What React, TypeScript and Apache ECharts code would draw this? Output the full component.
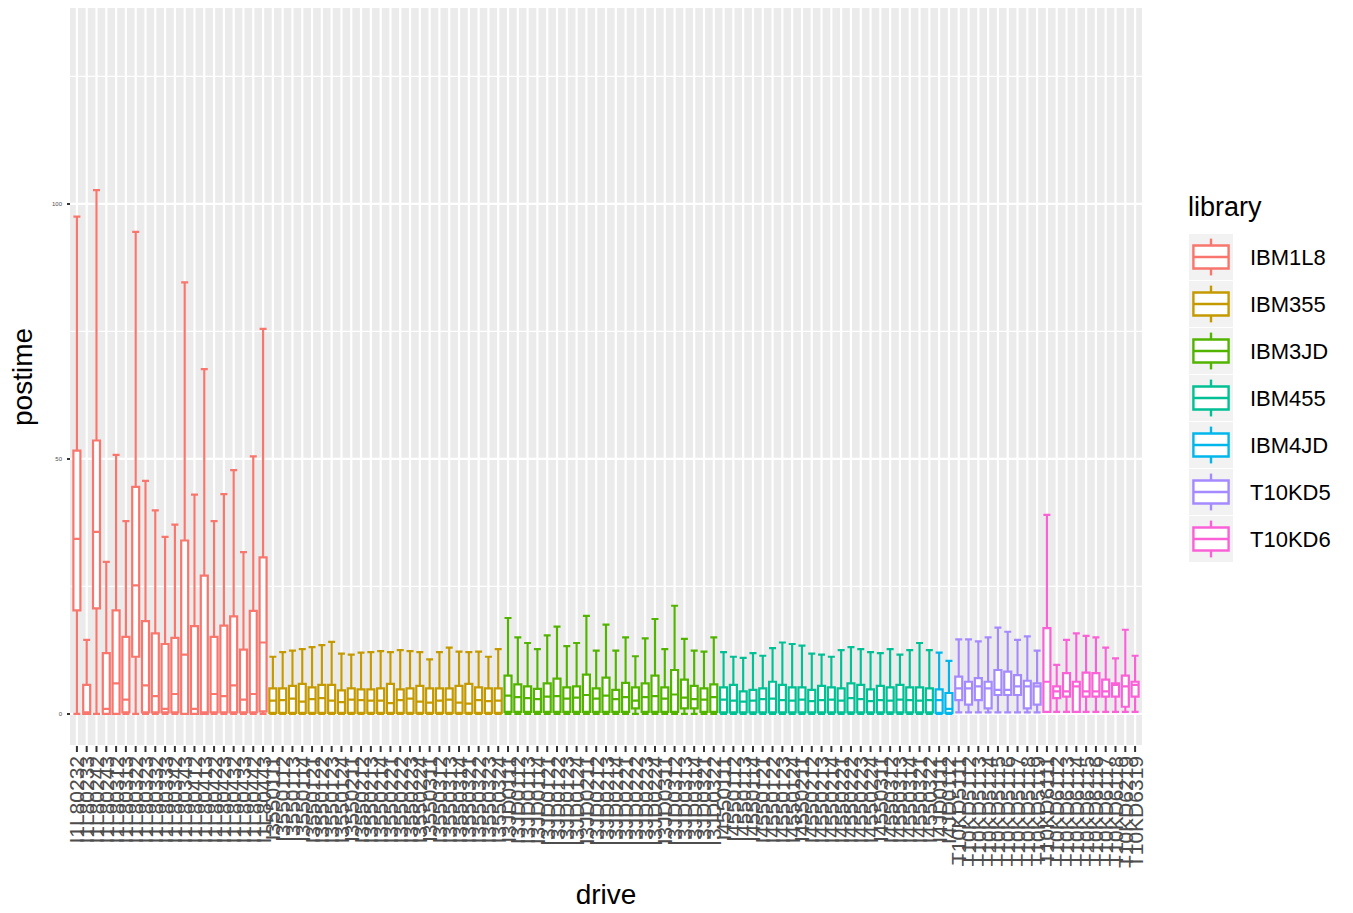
import React, { useEffect, useRef } from "react";
import * as echarts from "echarts";

const FONT = "'Liberation Sans', Arial, Helvetica, sans-serif";

const libraries = ["IBM1L8", "IBM355", "IBM3JD", "IBM455", "IBM4JD", "T10KD5", "T10KD6"];
const libraryColors = ["#F8766D", "#C49A00", "#53B400", "#00C094", "#00B6EB", "#A58AFF", "#FB61D7"];

// drive names per library
const drivesIBM1L8 = [
  "I1L80232", "I1L80233", "I1L80242", "I1L80243", "I1L80312", "I1L80313", "I1L80322", "I1L80323",
  "I1L80332", "I1L80333", "I1L80342", "I1L80343", "I1L80412", "I1L80413", "I1L80422", "I1L80423",
  "I1L80432", "I1L80433", "I1L80442", "I1L80443",
];
const drivesIBM355 = [
  "I3550111", "I3550112", "I3550113", "I3550114", "I3550121", "I3550122", "I3550123", "I3550124",
  "I3550211", "I3550212", "I3550213", "I3550214", "I3550221", "I3550222", "I3550223", "I3550224",
  "I3550311", "I3550312", "I3550313", "I3550314", "I3550321", "I3550322", "I3550323", "I3550324",
];
const drivesIBM3JD = [
  "I3JD0111", "I3JD0112", "I3JD0113", "I3JD0114", "I3JD0121", "I3JD0122", "I3JD0123", "I3JD0124",
  "I3JD0211", "I3JD0212", "I3JD0213", "I3JD0214", "I3JD0221", "I3JD0222", "I3JD0223", "I3JD0224",
  "I3JD0311", "I3JD0312", "I3JD0313", "I3JD0314", "I3JD0321", "I3JD0322",
];
const drivesIBM455 = [
  "I4550111", "I4550112", "I4550113", "I4550114", "I4550121", "I4550122", "I4550123", "I4550124",
  "I4550211", "I4550212", "I4550213", "I4550214", "I4550221", "I4550222", "I4550223", "I4550224",
  "I4550311", "I4550312", "I4550313", "I4550314", "I4550321", "I4550322",
];
const drivesIBM4JD = ["I4JD0111", "I4JD0112"];
const drivesT10KD5 = [
  "T10KD5111", "T10KD5112", "T10KD5113", "T10KD5114", "T10KD5115", "T10KD5116", "T10KD5117",
  "T10KD5118", "T10KD5119",
];
const drivesT10KD6 = [
  "T10KD6111", "T10KD6112", "T10KD6113", "T10KD6114", "T10KD6115", "T10KD6116", "T10KD6117",
  "T10KD6118", "T10KD6219", "T10KD6319",
];

// postime box statistics per drive: [lower whisker, Q1, median, Q3, upper whisker]
const statsIBM1L8 = [
  [0, 20.3, 34.3, 51.6, 97.5], [0, 0, 0.3, 5.7, 14.5], [0, 20.7, 35.7, 53.6, 102.7],
  [0, 0, 1.0, 11.9, 29.8], [0, 0, 6.0, 20.3, 50.8], [0, 0.3, 2.8, 15.1, 37.8],
  [0, 11.2, 25.2, 44.5, 94.5], [0, 0.3, 5.6, 18.2, 45.7], [0, 0.3, 3.5, 15.8, 39.9],
  [0, 0.3, 1.0, 13.7, 34.7], [0, 0.3, 3.9, 14.9, 37.1], [0, 0, 11.6, 34.0, 84.6],
  [0, 0, 1.0, 17.2, 43.0], [0, 0, 0.3, 27.1, 67.6], [0, 0.3, 3.9, 15.1, 37.8],
  [0, 0.3, 3.5, 17.3, 43.1], [0, 0.3, 5.6, 19.1, 47.8], [0, 0.3, 2.8, 12.6, 31.7],
  [0, 0.3, 3.9, 20.2, 50.5], [0, 0.5, 14.0, 30.7, 75.5],
];
const statsIBM355 = [
  [0, 0.2, 2.6, 5.0, 11.2], [0, 0.2, 2.7, 5.0, 12.1], [0, 0.2, 3.0, 5.5, 12.4], [0, 0.2, 2.4, 5.9, 12.7],
  [0, 0.2, 2.9, 5.2, 13.1], [0, 0.2, 3.1, 5.7, 13.5], [0, 0.2, 2.6, 5.7, 14.1], [0, 0.2, 2.3, 4.6, 11.8],
  [0, 0.2, 2.8, 5.0, 11.6], [0, 0.2, 2.7, 4.8, 12.0], [0, 0.2, 2.6, 4.8, 12.1], [0, 0.2, 2.6, 5.0, 12.3],
  [0, 0.2, 2.1, 5.9, 12.1], [0, 0.2, 2.7, 4.8, 12.5], [0, 0.2, 3.0, 5.0, 12.3], [0, 0.2, 2.4, 5.5, 12.1],
  [0, 0.2, 2.2, 5.0, 10.7], [0, 0.2, 2.6, 5.0, 12.1], [0, 0.2, 2.8, 5.0, 13.0], [0, 0.2, 2.2, 5.5, 12.2],
  [0, 0.2, 2.0, 5.9, 12.1], [0, 0.2, 2.7, 5.2, 12.2], [0, 0.2, 2.5, 5.0, 11.2], [0, 0.2, 2.6, 5.0, 12.7],
];
const statsIBM3JD = [
  [0, 0.4, 3.6, 7.5, 18.8], [0, 0.4, 3.3, 5.8, 15.0], [0, 0.4, 3.1, 5.4, 13.9], [0, 0.4, 2.9, 4.9, 12.7],
  [0, 0.4, 3.4, 6.0, 15.4], [0, 0.4, 3.5, 6.9, 17.1], [0, 0.4, 3.0, 5.2, 13.3], [0, 0.4, 3.2, 5.4, 13.9],
  [0, 0.4, 3.7, 7.7, 19.2], [0, 0.4, 3.0, 5.0, 12.4], [0, 0.4, 3.6, 7.1, 17.5], [0, 0.4, 2.9, 4.7, 12.4],
  [0, 0.4, 3.3, 6.1, 15.0], [0, 1.1, 2.6, 5.2, 11.3], [0, 0.4, 3.3, 6.0, 14.8], [0, 0.4, 3.5, 7.5, 18.6],
  [0, 0.4, 3.0, 5.2, 12.7], [0, 0.4, 3.8, 8.6, 21.2], [0, 1.1, 3.2, 6.7, 14.7], [0, 1.1, 2.9, 5.5, 12.4],
  [0, 0.4, 2.8, 5.0, 12.2], [0, 0.4, 3.3, 5.8, 15.0],
];
const statsIBM455 = [
  [0, 0.3, 2.8, 5.2, 12.1], [0, 0.3, 2.6, 5.7, 11.2], [0, 0.3, 2.4, 4.4, 11.0], [0, 0.3, 2.6, 4.7, 11.9],
  [0, 0.3, 2.9, 5.0, 11.4], [0, 0.3, 3.0, 6.3, 12.9], [0, 0.3, 2.7, 5.7, 14.0], [0, 0.3, 2.6, 5.2, 13.7],
  [0, 0.3, 2.8, 5.2, 13.4], [0, 0.3, 2.5, 4.7, 11.8], [0, 0.3, 2.7, 5.5, 11.6], [0, 0.3, 2.8, 5.2, 11.2],
  [0, 0.3, 2.6, 5.0, 12.5], [0, 0.3, 3.1, 6.0, 13.1], [0, 0.3, 2.9, 5.7, 12.7], [0, 0.3, 2.5, 4.8, 12.1],
  [0, 0.3, 2.7, 5.5, 11.9], [0, 0.3, 2.6, 5.2, 12.7], [0, 0.3, 2.8, 5.7, 11.6], [0, 0.3, 2.7, 5.2, 12.5],
  [0, 0.3, 2.6, 5.2, 13.9], [0, 0.3, 2.7, 5.0, 12.5],
];
const statsIBM4JD = [[0, 0.2, 2.7, 4.8, 12.0], [0, 0.2, 1.0, 4.1, 10.4]];
const statsT10KD5 = [
  [0.3, 2.7, 5.0, 7.3, 14.6], [0.3, 1.8, 5.0, 6.3, 14.6], [0.3, 2.7, 5.4, 7.0, 14.2],
  [0.3, 1.1, 5.0, 6.3, 15.0], [0.3, 3.7, 4.7, 8.6, 16.9], [0.3, 3.7, 4.7, 8.3, 16.1],
  [0.3, 3.7, 5.4, 7.6, 14.5], [0.3, 1.1, 5.4, 6.5, 15.2], [0.3, 1.8, 5.4, 6.0, 12.4],
];
const statsT10KD6 = [
  [0.4, 0.4, 6.3, 16.8, 39.0], [0.4, 3.1, 4.4, 5.4, 9.6], [0.4, 3.4, 4.4, 8.0, 14.5],
  [0.4, 0.4, 5.4, 6.3, 15.8], [0.4, 3.4, 4.4, 8.1, 15.3], [0.4, 3.4, 4.4, 8.0, 15.0],
  [0.4, 3.4, 4.4, 6.7, 13.0], [0.4, 3.4, 5.7, 6.0, 10.9], [0.4, 1.4, 5.4, 7.5, 16.5],
  [0.4, 3.4, 5.7, 6.3, 11.4],
];

const yMajorBreaks = [0, 50, 100];
const yMinorBreaks = [25, 75, 125];

const drivesByLibrary = [drivesIBM1L8, drivesIBM355, drivesIBM3JD, drivesIBM455, drivesIBM4JD, drivesT10KD5, drivesT10KD6];
const statsByLibrary = [statsIBM1L8, statsIBM355, statsIBM3JD, statsIBM455, statsIBM4JD, statsT10KD5, statsT10KD6];

// panel area (the grey background reaches a little past the outermost bands)
const PANEL_LEFT = 70;
const PANEL_RIGHT = 1142;
const PANEL_TOP = 8;
const PANEL_BOTTOM = 745;
const BAND_PAD = 2;

export default function App() {
  const ref = useRef<HTMLDivElement | null>(null);

  useEffect(() => {
    if (!ref.current) return;
    const chart = echarts.init(ref.current, null, { renderer: "svg" });

    const drives: string[] = [];
    const boxData: any[] = [];
    drivesByLibrary.forEach((list, li) => {
      list.forEach((d, j) => {
        drives.push(d);
        boxData.push({
          value: statsByLibrary[li][j],
          itemStyle: { borderColor: libraryColors[li] },
        });
      });
    });

    const vGridRender = (params: any, api: any) => {
      const cs = params.coordSys;
      const x = api.coord([api.value(0), 0])[0];
      return {
        type: "line",
        shape: { x1: x, y1: cs.y, x2: x, y2: cs.y + cs.height },
        style: { stroke: "#FFFFFF", lineWidth: 2.2 },
        silent: true,
      };
    };
    // dark tick marks just below the panel, one per drive
    const xTickRender = (params: any, api: any) => {
      const cs = params.coordSys;
      const x = api.coord([api.value(0), 0])[0];
      return {
        type: "line",
        shape: { x1: x, y1: cs.y + cs.height + 1, x2: x, y2: cs.y + cs.height + 7 },
        style: { stroke: "#333333", lineWidth: 2 },
        silent: true,
      };
    };
    const hGridRender = (width: number) => (params: any, api: any) => {
      const cs = params.coordSys;
      const y = api.coord([0, api.value(1)])[1];
      return {
        type: "line",
        shape: { x1: cs.x - BAND_PAD, y1: y, x2: cs.x + cs.width + BAND_PAD, y2: y },
        style: { stroke: "#FFFFFF", lineWidth: width },
        silent: true,
      };
    };

    // legend drawn as ggplot-style keys
    const legendItems: any[] = [];
    const keyX = 1189;
    const keyW = 44;
    const keyH = 46;
    libraries.forEach((lib, i) => {
      const top = 234 + 47 * i;
      const c = libraryColors[i];
      const bx = keyX + keyW * 0.1;
      const bw = keyW * 0.8;
      legendItems.push(
        { type: "rect", shape: { x: keyX, y: top, width: keyW, height: keyH }, style: { fill: "#F2F2F2" }, silent: true },
        { type: "line", shape: { x1: keyX + keyW / 2, y1: top + keyH * 0.1, x2: keyX + keyW / 2, y2: top + keyH * 0.9 }, style: { stroke: c, lineWidth: 2.4 }, silent: true },
        { type: "rect", shape: { x: bx, y: top + keyH * 0.25, width: bw, height: keyH * 0.5 }, style: { fill: "#FFFFFF", stroke: c, lineWidth: 2.4 }, silent: true },
        { type: "line", shape: { x1: bx, y1: top + keyH * 0.5, x2: bx + bw, y2: top + keyH * 0.5 }, style: { stroke: c, lineWidth: 2.4 }, silent: true },
        { type: "text", x: 1250, y: top + keyH / 2, style: { text: lib, fontSize: 22, fontFamily: FONT, fill: "#000000", verticalAlign: "middle", align: "left" }, silent: true }
      );
    });

    chart.setOption({
      animation: false,
      backgroundColor: "#FFFFFF",
      grid: {
        left: PANEL_LEFT + BAND_PAD,
        right: 1353 - PANEL_RIGHT + BAND_PAD,
        top: PANEL_TOP,
        bottom: 913 - PANEL_BOTTOM,
        show: false,
      },
      xAxis: {
        type: "category",
        data: drives,
        boundaryGap: true,
        axisLine: { show: false },
        axisTick: { show: false },
        axisLabel: { interval: 0, rotate: 90, fontSize: 21, color: "#4D4D4D", margin: 11, fontFamily: FONT },
        splitLine: { show: false },
      },
      yAxis: {
        type: "value",
        min: -6.1,
        max: 138.4,
        axisLine: { show: false },
        axisTick: { show: true, length: 5, customValues: yMajorBreaks, lineStyle: { color: "#333333", width: 2 } },
        axisLabel: { customValues: yMajorBreaks, fontSize: 6, color: "#4D4D4D", margin: 8 + BAND_PAD, fontFamily: FONT },
        splitLine: { show: false },
      },
      graphic: [
        {
          type: "rect",
          z: -10,
          shape: { x: PANEL_LEFT, y: PANEL_TOP, width: PANEL_RIGHT - PANEL_LEFT, height: PANEL_BOTTOM - PANEL_TOP },
          style: { fill: "#EBEBEB" },
          silent: true,
        },
        { type: "text", x: 22, y: 377, rotation: Math.PI / 2, style: { text: "postime", fontSize: 28, fontFamily: FONT, fill: "#000000", align: "center", verticalAlign: "middle" }, silent: true },
        { type: "text", x: 606, y: 894, style: { text: "drive", fontSize: 28, fontFamily: FONT, fill: "#000000", align: "center", verticalAlign: "middle" }, silent: true },
        { type: "text", x: 1188, y: 207, style: { text: "library", fontSize: 27, fontFamily: FONT, fill: "#000000", align: "left", verticalAlign: "middle" }, silent: true },
        ...legendItems,
      ],
      series: [
        { type: "custom", z: 1, data: yMinorBreaks.map((v) => [drives[0], v]), encode: { x: 0, y: 1 }, renderItem: hGridRender(1.2), silent: true, clip: false },
        { type: "custom", z: 1, data: drives.map((d) => [d, 0]), encode: { x: 0, y: 1 }, renderItem: vGridRender, silent: true },
        { type: "custom", z: 1, data: yMajorBreaks.map((v) => [drives[0], v]), encode: { x: 0, y: 1 }, renderItem: hGridRender(2.4), silent: true, clip: false },
        { type: "custom", z: 1, data: drives.map((d) => [d, 0]), encode: { x: 0, y: 1 }, renderItem: xTickRender, silent: true, clip: false },
        {
          type: "boxplot",
          z: 3,
          data: boxData,
          boxWidth: [7, 7],
          itemStyle: { color: "#FFFFFF", borderWidth: 2.2 },
          silent: true,
        },
      ],
    });

    return () => chart.dispose();
  }, []);

  return <div ref={ref} style={{ position: "fixed", left: 0, top: 0, width: 1353, height: 913 }} />;
}
